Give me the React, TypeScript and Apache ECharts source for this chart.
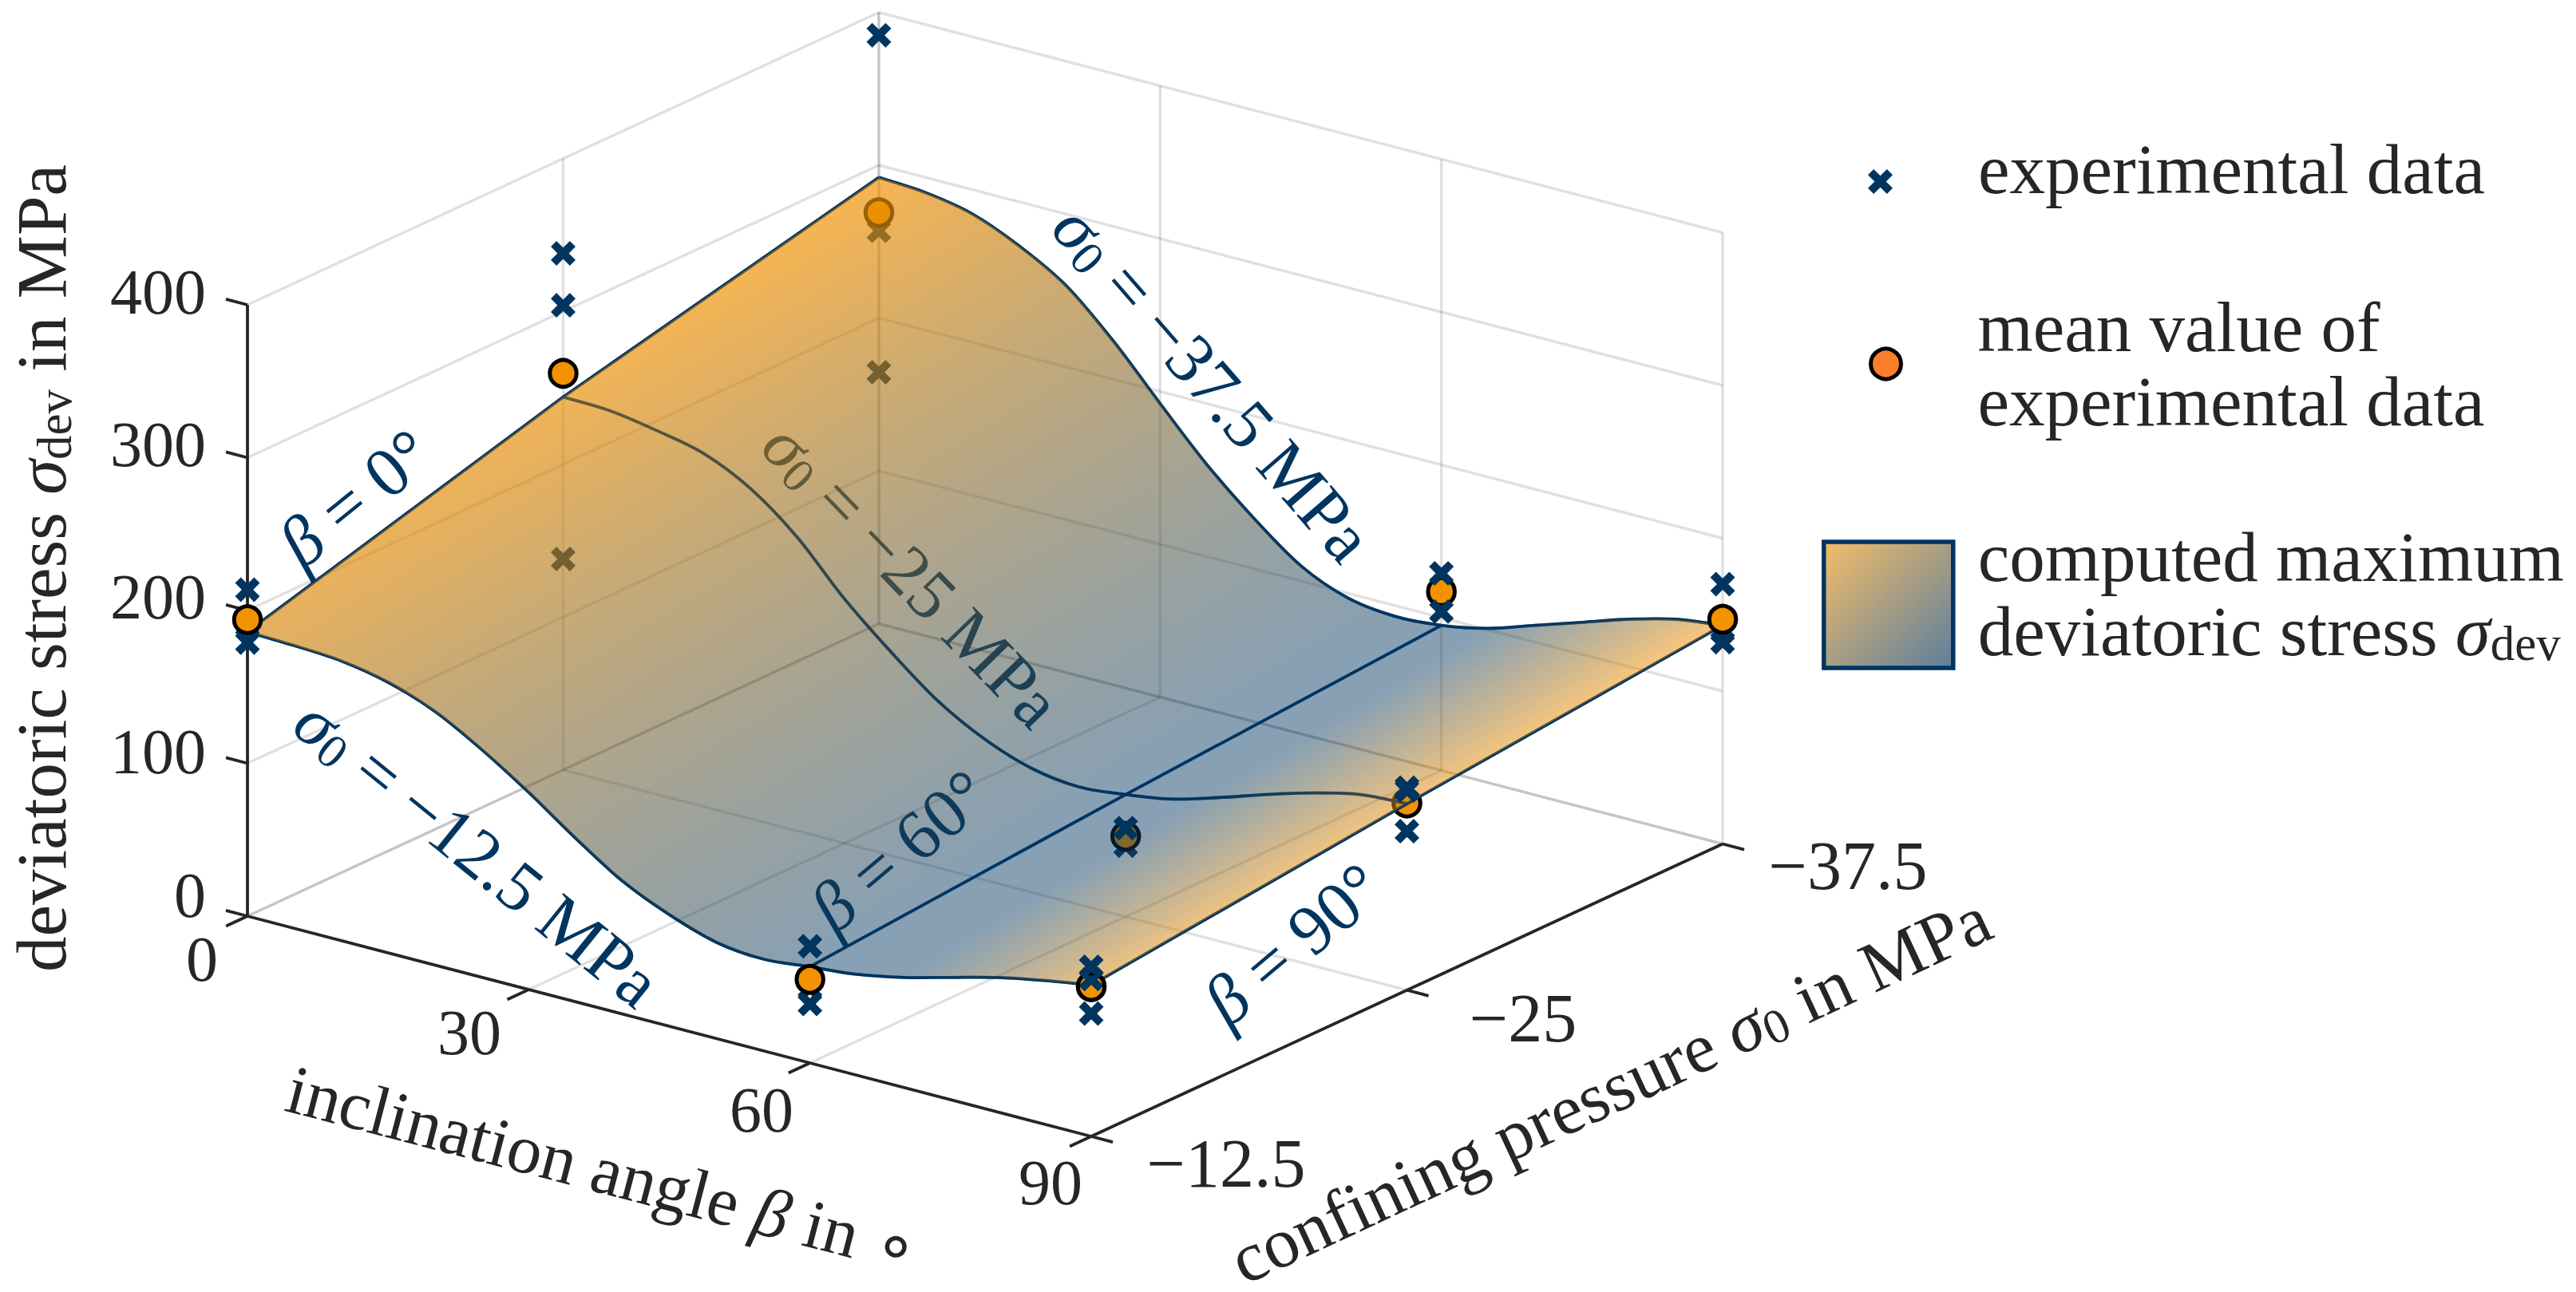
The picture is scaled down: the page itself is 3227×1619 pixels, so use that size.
import React, { useEffect, useRef } from "react";
import * as echarts from "echarts";

const W = 3227;
const H = 1619;
const FONT = "Liberation Serif";
const TEXT = "#262626";
const NAVY = "#003560";

// axis ticks
const BETA_TICKS = [0, 30, 60, 90];
const SIGMA_TICKS = [-12.5, -25, -37.5];
const STRESS_TICKS = [0, 100, 200, 300, 400];

// computed surface, sampled at these inclination angles
const BETA_SAMPLES = [0, 5, 10, 15, 20, 25, 30, 35, 40, 45, 50, 55, 60, 65, 70, 75, 80, 85, 90];
const CURVE_12_5 = [186, 185, 183, 177, 166, 149, 129, 107, 87, 73, 63, 60, 63, 66, 72, 80, 88, 94, 99];
const CURVE_25 = [244, 243, 238, 231, 216, 192, 160, 133, 109, 92, 81, 77, 80, 85, 94, 104, 113, 120, 122];
const CURVE_37_5 = [292, 290, 284, 271, 253, 225, 192, 160, 133, 110, 97, 93, 95, 101, 111, 121, 131, 139, 143];

// experimental data [beta, sigma0, stress], split by what covers them in the picture
const EXP_BEHIND_SURFACE = [
  [0, -25, 138],
  [0, -37.5, 257],
  [0, -37.5, 164.5],
  [60, -25, 46.5],
  [60, -25, 52],
];
const EXP_BEHIND_SURFACE_OVER_MEAN = [[60, -25, 58]];
const EXP_BEHIND_MEAN = [
  [0, -12.5, 213.6],
  [0, -12.5, 179],
  [0, -12.5, 190],
  [0, -25, 338],
  [0, -25, 304],
  [0, -37.5, 385],
  [60, -12.5, 76.4],
  [60, -12.5, 38.6],
  [60, -12.5, 49],
  [60, -37.5, 118],
  [90, -37.5, 170],
  [90, -37.5, 132],
  [90, -37.5, 139],
];
const EXP_UNDER_RING = [[90, -12.5, 103]];
const EXP_OVER_MEAN = [
  [60, -37.5, 129],
  [60, -37.5, 104],
  [90, -12.5, 111],
  [90, -12.5, 80.4],
  [90, -25, 132.5],
  [90, -25, 104],
  [90, -25, 130.7],
];

// mean values
const MEAN_BEHIND_SURFACE = [
  [0, -37.5, 269],
  [60, -25, 52.7],
  [90, -25, 122.4],
];
const MEAN_FRONT = [
  [0, -12.5, 194],
  [0, -25, 259.5],
  [60, -12.5, 54.7],
  [60, -37.5, 117],
  [90, -12.5, 98],
  [90, -37.5, 147],
];
const MEAN_RING_ON_TOP = [[90, -12.5, 98]];

const SERIES_EXP = "experimental data";
const SERIES_MEAN = "mean value of experimental data";
const SERIES_SURF = "computed maximum deviatoric stress";

const CROSS =
  "path://M0,2.3 L2.3,0 L5,2.7 L7.7,0 L10,2.3 L7.3,5 L10,7.7 L7.7,10 L5,7.3 L2.3,10 L0,7.7 L2.7,5 Z";

// oblique view of the three data axes on the flat picture
function project(beta: number, sigma: number, stress: number): [number, number] {
  const b = beta / 90;
  const s = (-sigma - 12.5) / 25;
  return [310 + 1057 * b + 791 * s, 1148 + 276 * b - 366.5 * s - 1.915 * stress];
}

type P = number[];
function beziers(pts: P[]): string {
  let d = "";
  for (let i = 0; i < pts.length - 1; i++) {
    const p0 = pts[i - 1] || pts[i];
    const p1 = pts[i];
    const p2 = pts[i + 1];
    const p3 = pts[i + 2] || p2;
    d += ` C${p1[0] + (p2[0] - p0[0]) / 6},${p1[1] + (p2[1] - p0[1]) / 6} ${p2[0] - (p3[0] - p1[0]) / 6},${p2[1] - (p3[1] - p1[1]) / 6} ${p2[0]},${p2[1]}`;
  }
  return d;
}

const CURVES: { sigma: number; values: number[] }[] = [
  { sigma: -12.5, values: CURVE_12_5 },
  { sigma: -25, values: CURVE_25 },
  { sigma: -37.5, values: CURVE_37_5 },
];

function curvePoints(api: any, c: { sigma: number; values: number[] }): P[] {
  return c.values.map((v, i) => api.coord(project(BETA_SAMPLES[i], c.sigma, v)));
}

// value of a curve at a sampled angle
const at = (c: { values: number[] }, beta: number) => c.values[BETA_SAMPLES.indexOf(beta)];

function segments() {
  const out: number[][] = [];
  const sMin = SIGMA_TICKS[0];
  const sMax = SIGMA_TICKS[SIGMA_TICKS.length - 1];
  const bMin = BETA_TICKS[0];
  const bMax = BETA_TICKS[BETA_TICKS.length - 1];
  const zMin = STRESS_TICKS[0];
  const zMax = STRESS_TICKS[STRESS_TICKS.length - 1];
  BETA_TICKS.slice(0, -1).forEach((b) => out.push([b, sMin, 0, b, sMax, 0]));
  SIGMA_TICKS.slice(1).forEach((s) => out.push([bMin, s, 0, bMax, s, 0]));
  STRESS_TICKS.forEach((z) => {
    out.push([bMin, sMin, z, bMin, sMax, z]);
    out.push([bMin, sMax, z, bMax, sMax, z]);
  });
  SIGMA_TICKS.slice(1).forEach((s) => out.push([bMin, s, zMin, bMin, s, zMax]));
  BETA_TICKS.forEach((b) => out.push([b, sMax, zMin, b, sMax, zMax]));
  return out;
}

function axisSegments() {
  const out: number[][] = [];
  const s0 = SIGMA_TICKS[0];
  const s1 = SIGMA_TICKS[SIGMA_TICKS.length - 1];
  out.push([0, s0, 0, 90, s0, 0]);
  out.push([90, s0, 0, 90, s1, 0]);
  out.push([0, s0, 0, 0, s0, 400]);
  STRESS_TICKS.forEach((z) => out.push([0, s0, z, -2.3, s0, z]));
  BETA_TICKS.forEach((b) => out.push([b, s0, 0, b, s0 + 0.85, 0]));
  SIGMA_TICKS.forEach((s) => out.push([90, s, 0, 92.3, s, 0]));
  return out;
}

function segmentSeries(name: string, data: number[][], stroke: string, lineWidth: number, z: number) {
  return {
    type: "custom",
    name,
    z,
    silent: true,
    clip: false,
    coordinateSystem: "cartesian2d",
    data,
    renderItem: (_: any, api: any) => {
      const a = api.coord(project(api.value(0), api.value(1), api.value(2)));
      const b = api.coord(project(api.value(3), api.value(4), api.value(5)));
      return {
        type: "line",
        shape: { x1: a[0], y1: a[1], x2: b[0], y2: b[1] },
        style: { stroke, lineWidth, lineCap: "butt" },
      };
    },
  };
}

function curveSeries(name: string, stroke: string, z: number) {
  return {
    type: "custom",
    name,
    z,
    silent: true,
    clip: false,
    coordinateSystem: "cartesian2d",
    data: [[0, 0]],
    renderItem: (_: any, api: any) => {
      const children: any[] = CURVES.map((c) => {
        const pts = curvePoints(api, c);
        return {
          type: "path",
          shape: { pathData: `M${pts[0][0]},${pts[0][1]}` + beziers(pts) },
          style: { fill: "none", stroke, lineWidth: 3.8 },
        };
      });
      [0, 60, 90].forEach((b) => {
        const pts = CURVES.map((c) => api.coord(project(b, c.sigma, at(c, b))));
        children.push({
          type: "polyline",
          shape: { points: pts },
          style: { fill: "none", stroke, lineWidth: 3.8 },
        });
      });
      return { type: "group", children };
    },
  };
}

const SURFACE_FILL = new echarts.graphic.LinearGradient(
  387,
  649,
  910,
  1527,
  [
    { offset: 0, color: "rgba(243,146,0,0.68)" },
    { offset: 0.8, color: "rgba(0,53,96,0.47)" },
    { offset: 0.855, color: "rgba(0,53,96,0.47)" },
    { offset: 1, color: "rgba(243,146,0,0.52)" },
  ],
  true
);

function surfaceSeries(z: number) {
  return {
    type: "custom",
    name: SERIES_SURF,
    z,
    silent: true,
    clip: false,
    coordinateSystem: "cartesian2d",
    data: [[0, 0]],
    renderItem: (_: any, api: any) => {
      const low = curvePoints(api, CURVES[0]);
      const mid = curvePoints(api, CURVES[1]);
      const high = curvePoints(api, CURVES[2]).reverse();
      const midEnd = mid[mid.length - 1];
      const d =
        `M${low[0][0]},${low[0][1]}` +
        beziers(low) +
        ` L${midEnd[0]},${midEnd[1]} L${high[0][0]},${high[0][1]}` +
        beziers(high) +
        ` L${mid[0][0]},${mid[0][1]} Z`;
      return { type: "path", shape: { pathData: d }, style: { fill: SURFACE_FILL, stroke: "none" } };
    },
  };
}

const toXY = (list: number[][]) => list.map((d) => project(d[0], d[1], d[2]));

function crossSeries(list: number[][], z: number) {
  return {
    type: "scatter",
    name: SERIES_EXP,
    z,
    silent: true,
    clip: false,
    symbol: CROSS,
    symbolSize: 31,
    itemStyle: { color: NAVY, opacity: 1 },
    data: toXY(list),
  };
}

function meanSeries(list: number[][], z: number, fill = "#f39200") {
  return {
    type: "scatter",
    name: SERIES_MEAN,
    z,
    silent: true,
    clip: false,
    symbol: "circle",
    symbolSize: 33.5,
    itemStyle: { color: fill, borderColor: "#000000", borderWidth: 5, opacity: 1 },
    data: toXY(list),
  };
}

function richFor(size: number, color: string) {
  const lh = Math.round(size * 1.05);
  const sub = Math.round(size * 0.68);
  return {
    i: { fontFamily: FONT, fontStyle: "italic", fontSize: size, lineHeight: lh, color },
    t: { fontFamily: FONT, fontSize: size, lineHeight: lh, color },
    sub: { fontFamily: FONT, fontSize: sub, lineHeight: lh, verticalAlign: "bottom", color },
    p1: { width: 102, height: lh },
    p2: { width: 91, height: lh },
    p3: { width: 26, height: lh },
    g28: { fontSize: 1, height: 28, lineHeight: 28 },
    g32: { fontSize: 1, height: 32, lineHeight: 32 },
  };
}

type Lab = { at: [number, number]; text: string; rotate?: number; color?: string; size?: number };

function labelSeries(name: string, items: Lab[], z: number) {
  return {
    type: "scatter",
    name,
    z,
    silent: true,
    clip: false,
    symbol: "circle",
    symbolSize: 1,
    itemStyle: { color: "rgba(0,0,0,0)", opacity: 1 },
    data: items.map((l) => {
      const size = l.size || 88;
      const color = l.color || TEXT;
      return {
        value: l.at,
        label: {
          show: true,
          position: "inside",
          formatter: l.text,
          rotate: l.rotate || 0,
          color,
          opacity: 1,
          fontFamily: FONT,
          fontSize: size,
          lineHeight: Math.round(size * 1.05),
          align: "center",
          verticalAlign: "middle",
          rich: richFor(size, color),
        },
      };
    }),
  };
}

const TICK_LABELS: Lab[] = [
  { at: [198, 366], text: "400", size: 80 },
  { at: [198, 557], text: "300", size: 80 },
  { at: [198, 748], text: "200", size: 80 },
  { at: [198, 942], text: "100", size: 80 },
  { at: [238, 1122], text: "0", size: 80 },
  { at: [253, 1202], text: "0", size: 80 },
  { at: [588, 1294], text: "30", size: 80 },
  { at: [954, 1391], text: "60", size: 80 },
  { at: [1316, 1482], text: "90", size: 80 },
  { at: [1536, 1458], text: "\u221212.5", size: 86 },
  { at: [1908, 1276], text: "\u221225", size: 86 },
  { at: [2315, 1085], text: "\u221237.5", size: 86 },
];

const AXIS_TITLES: Lab[] = [
  { at: [52, 712], rotate: 90, text: "{t|deviatoric stress }{i|\u03c3}{sub|dev}{t| in MPa}", size: 89 },
  { at: [755, 1465], rotate: -14.6, text: "{t|inclination angle }{i|\u03b2}{t| in \u2218}", size: 87 },
  { at: [2017, 1365], rotate: 24.9, text: "{t|confining pressure }{i|\u03c3}{sub|0}{t| in MPa}", size: 89 },
];

const NOTES_FRONT: Lab[] = [
  { at: [445, 624], rotate: 39, color: NAVY, text: "{i|\u03b2}{t| = 0\u00b0}" },
  { at: [1519, 480], rotate: -49, color: NAVY, text: "{i|\u03c3}{sub|0}{t| = \u221237.5 MPa}" },
  { at: [598, 1068], rotate: -39, color: NAVY, text: "{i|\u03c3}{sub|0}{t| = \u221212.5 MPa}" },
  { at: [1620, 1183], rotate: 40, color: NAVY, text: "{i|\u03b2}{t| = 90\u00b0}" },
];
const NOTES_UNDER: Lab[] = [
  { at: [1142, 720], rotate: -46, color: NAVY, text: "{i|\u03c3}{sub|0}{t| = \u221225 MPa}" },
  { at: [1127, 1066], rotate: 40, color: NAVY, text: "{i|\u03b2}{t| = 60\u00b0}" },
];

function legendBase(left: number, top: number, itemWidth: number, itemHeight: number) {
  return {
    left,
    top,
    padding: 0,
    itemWidth,
    itemHeight,
    selectedMode: false,
    orient: "vertical",
    textStyle: {
      color: TEXT,
      fontFamily: FONT,
      fontSize: 89,
      lineHeight: 93,
      rich: richFor(89, TEXT),
    },
  };
}

export default function App() {
  const ref = useRef<HTMLDivElement | null>(null);
  useEffect(() => {
    document.body.style.margin = "0";
    document.documentElement.style.overflow = "hidden";
    const chart = echarts.init(ref.current!, undefined, { renderer: "svg", width: W, height: H });
    chart.setOption({
      animation: false,
      backgroundColor: "#ffffff",
      textStyle: { fontFamily: FONT },
      grid: { left: 0, top: 0, width: W, height: H, containLabel: false },
      xAxis: { type: "value", min: 0, max: W, show: false },
      yAxis: { type: "value", min: 0, max: H, inverse: true, show: false },
      legend: [
        {
          ...legendBase(2340, 165, 31, 31),
          data: [{ name: SERIES_EXP, icon: CROSS, itemStyle: { color: NAVY, borderWidth: 0 } }],
          formatter: () => "{p1|}{t|experimental data}\n{g32| }",
        },
        {
          ...legendBase(2341, 363, 38, 38),
          data: [
            {
              name: SERIES_MEAN,
              icon: "circle",
              itemStyle: { color: "#fb7f2b", borderColor: "#000000", borderWidth: 5 },
            },
          ],
          formatter: () => "{p2|}{t|mean value of}\n{p2|}{t|experimental data}",
        },
        {
          ...legendBase(2282, 651, 162, 158),
          data: [
            {
              name: SERIES_SURF,
              icon: "rect",
              itemStyle: {
                color: new echarts.graphic.LinearGradient(0, 0, 1, 1, [
                  { offset: 0, color: "#f3bd69" },
                  { offset: 1, color: "#5c7f9f" },
                ]),
                borderColor: NAVY,
                borderWidth: 5.5,
              },
            },
          ],
          formatter: () =>
            "{p3|}{t|computed maximum}\n{p3|}{t|deviatoric stress }{i|\u03c3}{sub|dev}\n{g28| }",
        },
      ],
      series: [
        segmentSeries("grid", segments(), "rgba(38,38,38,0.14)", 3.4, 1),
        crossSeries(EXP_BEHIND_SURFACE, 2),
        meanSeries(MEAN_BEHIND_SURFACE, 3),
        crossSeries(EXP_BEHIND_SURFACE_OVER_MEAN, 4),
        labelSeries("notes under", NOTES_UNDER, 4),
        curveSeries("curves", NAVY, 5),
        surfaceSeries(6),
        curveSeries("curves over", "rgba(0,53,96,0.35)", 7),
        segmentSeries("axes", axisSegments(), TEXT, 3.8, 8),
        crossSeries(EXP_BEHIND_MEAN, 9),
        meanSeries(MEAN_FRONT, 10),
        crossSeries(EXP_UNDER_RING, 11),
        meanSeries(MEAN_RING_ON_TOP, 12, "rgba(0,0,0,0)"),
        crossSeries(EXP_OVER_MEAN, 13),
        labelSeries("tick labels", TICK_LABELS, 14),
        labelSeries("axis titles", AXIS_TITLES, 14),
        labelSeries("notes", NOTES_FRONT, 14),
      ],
    });
    return () => chart.dispose();
  }, []);
  return <div ref={ref} style={{ width: W, height: H, background: "#fff" }} />;
}
